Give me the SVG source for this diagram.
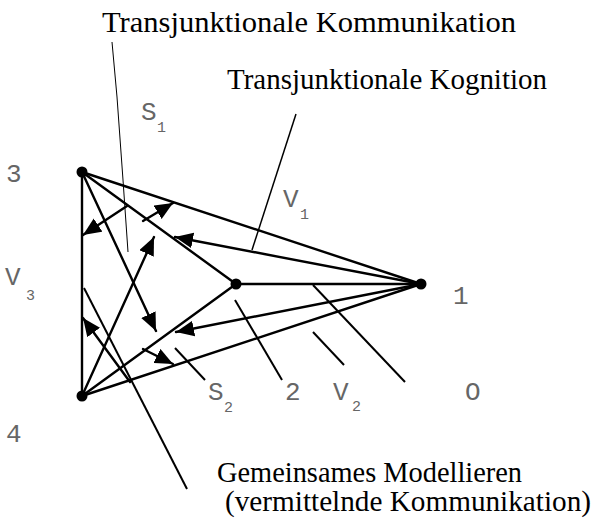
<svg xmlns="http://www.w3.org/2000/svg" width="594" height="519" viewBox="0 0 594 519">
<style>
.title{font-family:"Liberation Serif","Times New Roman",serif;font-size:29px;fill:#000}
.lab{font-family:"Liberation Mono","Courier New",monospace;font-size:26px;fill:#666}
.sub{font-family:"Liberation Mono","Courier New",monospace;font-size:15px;fill:#666}
.ln{stroke:#000;stroke-width:2.4;fill:none;stroke-linecap:round}
.ptr{stroke:#000;stroke-width:2;fill:none}
.arr{marker-end:url(#ah)}
.dot{fill:#000}
</style>
<defs>
<marker id="ah" viewBox="0 0 16 14" refX="16" refY="7" markerWidth="18" markerHeight="16" markerUnits="userSpaceOnUse" orient="auto">
<path d="M0,0 L16,7 L0,14 z" fill="#000"/>
</marker>
</defs>
<rect width="594" height="519" fill="#fff"/>
<g id="connectors">
<line class="ln" x1="82" y1="172" x2="82" y2="396"/>
<line class="ln" x1="82" y1="172" x2="421" y2="284"/>
<line class="ln" x1="82" y1="396" x2="421" y2="284"/>
<line class="ln" x1="236" y1="284" x2="421" y2="284"/>
<line class="ln" x1="82" y1="172" x2="236" y2="284"/>
<line class="ln" x1="82" y1="396" x2="236" y2="284"/>
<line class="ln arr" x1="82" y1="172" x2="156" y2="331"/>
<line class="ln arr" x1="82" y1="396" x2="154" y2="237"/>
<line class="ln arr" x1="421" y1="284" x2="175" y2="237"/>
<line class="ln arr" x1="421" y1="284" x2="176" y2="332"/>
<line class="ln arr" x1="127" y1="206" x2="83" y2="235"/>
<line class="ln arr" x1="143" y1="221" x2="173" y2="203"/>
<line class="ln arr" x1="130" y1="382" x2="83" y2="318"/>
<line class="ln arr" x1="143" y1="349" x2="173" y2="364"/>
<path d="M112,42 L117,97 L123,180 L128,252" stroke="#000" stroke-width="1" fill="none"/>
<line x1="296" y1="114" x2="252" y2="250" stroke="#000" stroke-width="1.5"/>
<line class="ptr" x1="84" y1="288" x2="187" y2="489"/>
<line class="ptr" x1="235" y1="300" x2="282" y2="380"/>
<line class="ptr" x1="313" y1="285" x2="405" y2="382"/>
<line class="ptr" x1="313" y1="332" x2="344" y2="365"/>
<line class="ptr" x1="175" y1="348" x2="205" y2="380"/>
</g>
<g id="node3"><circle class="dot" cx="82" cy="172" r="5.5"/><text class="lab" x="6" y="182">3</text></g>
<g id="node4"><circle class="dot" cx="82" cy="396" r="5.5"/><text class="lab" x="6" y="442">4</text></g>
<g id="node2"><circle class="dot" cx="236" cy="284" r="5.5"/><text class="lab" x="285" y="400">2</text></g>
<g id="node1"><circle class="dot" cx="421" cy="284" r="5.5"/><text class="lab" x="453" y="304">1</text></g>
<g id="labels">
<text class="lab" x="5" y="285">V</text><text class="sub" x="26" y="300">3</text>
<text class="lab" x="141" y="120">S</text><text class="sub" x="157" y="132">1</text>
<text class="lab" x="283" y="207">V</text><text class="sub" x="300" y="219">1</text>
<text class="lab" x="208" y="400">S</text><text class="sub" x="224" y="412">2</text>
<text class="lab" x="333" y="400">V</text><text class="sub" x="352" y="411">2</text>
<text class="lab" x="465" y="400">O</text>
<text class="title" x="102" y="32" textLength="414" lengthAdjust="spacingAndGlyphs">Transjunktionale Kommunikation</text>
<text class="title" x="227" y="89" textLength="320" lengthAdjust="spacingAndGlyphs">Transjunktionale Kognition</text>
<text class="title" x="217" y="482" textLength="305" lengthAdjust="spacingAndGlyphs">Gemeinsames Modellieren</text>
<text class="title" x="225" y="511" textLength="366" lengthAdjust="spacingAndGlyphs">(vermittelnde Kommunikation)</text>
</g>
</svg>
